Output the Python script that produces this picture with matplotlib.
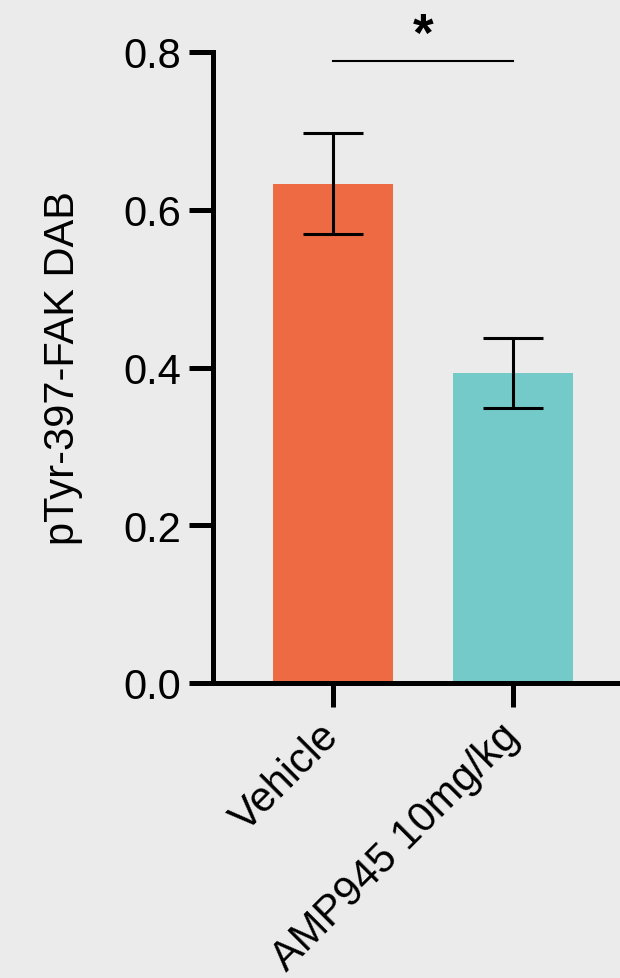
import matplotlib.pyplot as plt
import matplotlib.transforms as mtransforms

groups = ["Vehicle", "AMP945 10mg/kg"]
means = [0.633, 0.393]
errs = [0.064, 0.044]
colors = ["#EE6A43", "#74CAC8"]
sig_y = 0.789
sig_text = "*"

plt.rcParams["font.family"] = ["Liberation Sans", "DejaVu Sans"]

fig = plt.figure(figsize=(6.2, 9.79), dpi=100, facecolor="#EBEBEB")
ax = fig.add_axes([213 / 620, 1 - 684 / 979, 1 - 213 / 620, (684 - 53) / 979])
ax.set_facecolor("#EBEBEB")

x = list(range(len(groups)))
ax.bar(x, means, width=0.667, color=colors, zorder=2)
ax.errorbar(x, means, yerr=errs, fmt="none", ecolor="black", elinewidth=2.2,
            capsize=21.5, capthick=2.2, zorder=3)

# significance bar
ax.plot([0, 1], [sig_y, sig_y], color="black", lw=1.5, clip_on=False)
ax.text(0.5, 0.852, sig_text, ha="center", va="top", fontsize=38,
        fontweight="bold", clip_on=False)

ax.set_xlim(-0.667, 1.594)
ax.set_ylim(0, 0.8)
ax.set_yticks([0.0, 0.2, 0.4, 0.6, 0.8])
ax.set_yticklabels(["0.0", "0.2", "0.4", "0.6", "0.8"])
ax.set_xticks(x)
ax.set_xticklabels(groups, rotation=45, ha="right", va="center",
                   rotation_mode="anchor", fontsize=30)

for s in ["top", "right"]:
    ax.spines[s].set_visible(False)
ax.spines["left"].set_linewidth(3.6)
ax.spines["bottom"].set_linewidth(3.6)
ax.spines["left"].set_bounds(0, 0.8)
ax.tick_params(axis="both", width=3.6, length=17, pad=6)
ax.tick_params(axis="y", labelsize=30)
ax.tick_params(axis="x", pad=0)

# push rotated x labels below the ticks like the original
shift = mtransforms.ScaledTranslation(0.0, -0.23, fig.dpi_scale_trans)
for lab in ax.get_xticklabels():
    lab.set_transform(lab.get_transform() + shift)

ax.set_ylabel("pTyr-397-FAK DAB", fontsize=30, labelpad=29)

fig.savefig("out.png", dpi=100, facecolor=fig.get_facecolor())
